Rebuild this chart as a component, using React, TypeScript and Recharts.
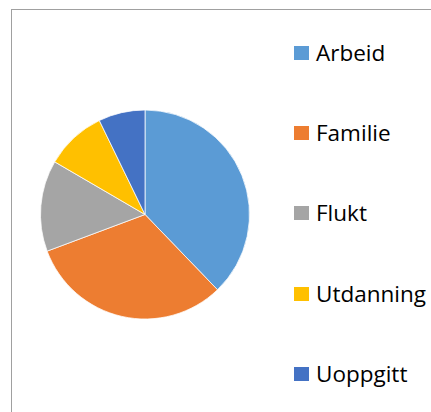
import React from 'react';
import { PieChart, Pie, Cell, Legend } from 'recharts';

const categories = ['Arbeid', 'Familie', 'Flukt', 'Utdanning', 'Uoppgitt'];
const shares = [37.8, 31.5, 14.1, 9.4, 7.2];
const colors = ['#5B9BD5', '#ED7D31', '#A5A5A5', '#FFC000', '#4472C4'];

const data = categories.map((name, i) => ({ name, value: shares[i] }));

const LegendContent = () => (
  <div style={{ fontFamily: '"Open Sans", sans-serif', fontSize: 22.5, color: '#000' }}>
    {categories.map((c, i) => (
      <div key={c} style={{ height: 80.1, display: 'flex', alignItems: 'center' }}>
        <span style={{ display: 'inline-block', width: 15, height: 14, background: colors[i], marginRight: 7 }} />
        <span style={{ lineHeight: '22px', whiteSpace: 'nowrap' }}>{c}</span>
      </div>
    ))}
  </div>
);

export default function App() {
  return (
    <div style={{ position: 'absolute', left: 0, top: 0, width: 431, height: 412, background: '#fff' }}>
      <div style={{ position: 'absolute', left: 11, top: 9, width: 420, height: 403, borderLeft: '1px solid #a0a0a0', borderTop: '1px solid #a0a0a0' }} />
      <PieChart width={431} height={412} margin={{ top: 0, right: 0, bottom: 0, left: 0 }}>
        <Pie
          data={data}
          dataKey="value"
          nameKey="name"
          cx={145}
          cy={214.5}
          outerRadius={104.5}
          startAngle={90}
          endAngle={-270}
          stroke="#ffffff"
          strokeWidth={0.75}
          isAnimationActive={false}
        >
          {data.map((d, i) => (
            <Cell key={d.name} fill={colors[i]} />
          ))}
        </Pie>
        <Legend content={<LegendContent />} wrapperStyle={{ position: 'absolute', left: 294, top: 13.2, width: 137 }} />
      </PieChart>
    </div>
  );
}
